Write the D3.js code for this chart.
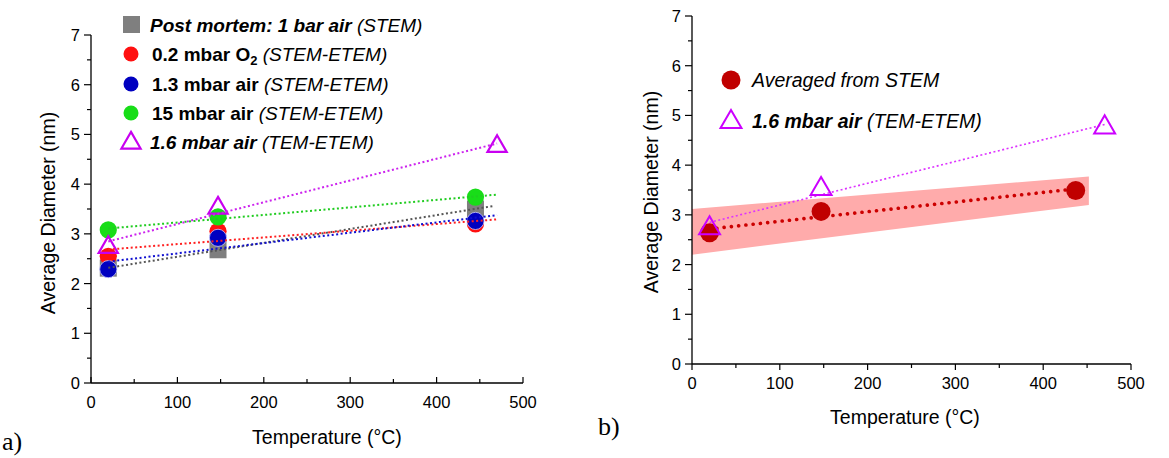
<!DOCTYPE html>
<html lang="en">
  <head>
    <meta charset="UTF-8" />
    <title>particle size vs temperature</title>
    <script src="https://cdn.jsdelivr.net/npm/d3@7"></script>
    <style>
      body { margin: 0; background: #fff; }
      svg { display: block; font-family: "Liberation Sans", Arial, sans-serif; }
    </style>
  </head>
  <body>
    <div id="wrapper"></div>
    <script>
      // temperatures (°C) of the STEM series in panel a
      const tempsStem = [20, 147, 445];
      const postMortem = [2.31, 2.68, 3.5];
      const o2Series = [2.55, 3.05, 3.2];
      const air13 = [2.29, 2.92, 3.26];
      const air15 = [3.08, 3.34, 3.74];
      // TEM-ETEM series (both panels)
      const tempsTem = [20, 147, 470];
      const air16 = [2.75, 3.54, 4.78];
      // panel b: averaged STEM values and spread band
      const tempsAvg = [20, 147, 437];
      const averaged = [2.64, 3.07, 3.49];
      const bandTemps = [0, 452];
      const bandLow = [2.2, 3.2];
      const bandHigh = [3.12, 3.77];

      const xTicks = [0, 100, 200, 300, 400, 500];
      const yTicks = [0, 1, 2, 3, 4, 5, 6, 7];

      const width = 1169, height = 458;
      const svg = d3.select("#wrapper").append("svg")
        .attr("width", width).attr("height", height);

      // least squares fit, returns y at given x
      function fit(xs, ys) {
        const mx = d3.mean(xs), my = d3.mean(ys);
        let sxy = 0, sxx = 0;
        xs.forEach((x, i) => { sxy += (x - mx) * (ys[i] - my); sxx += (x - mx) ** 2; });
        const b = sxy / sxx;
        return x => my + b * (x - mx);
      }

      function drawAxes(g, x, y, opts) {
        const inward = opts.xInward;
        // y axis
        g.append("line").attr("x1", x(0)).attr("x2", x(0)).attr("y1", y(0)).attr("y2", y(7))
          .attr("stroke", "#000").attr("stroke-width", 1.3);
        d3.range(0, 7.01, 0.5).forEach(v => {
          const major = v % 1 === 0;
          g.append("line").attr("x1", x(0) - (major ? 7 : 4)).attr("x2", x(0))
            .attr("y1", y(v)).attr("y2", y(v)).attr("stroke", "#000").attr("stroke-width", 1.2);
        });
        g.selectAll(".ylab").data(yTicks).join("text")
          .attr("x", x(0) - 11).attr("y", d => y(d) + 6)
          .attr("text-anchor", "end").attr("font-size", 16.5).text(d => d);
        // x axis
        g.append("line").attr("x1", x(0)).attr("x2", x(500)).attr("y1", y(0)).attr("y2", y(0))
          .attr("stroke", "#000").attr("stroke-width", 1.3);
        d3.range(0, 501, 50).forEach(v => {
          const len = v % 100 === 0 ? 6 : 4;
          g.append("line").attr("x1", x(v)).attr("x2", x(v))
            .attr("y1", y(0)).attr("y2", inward ? y(0) - len : y(0) + len)
            .attr("stroke", "#000").attr("stroke-width", 1.2);
        });
        g.selectAll(".xlab").data(xTicks).join("text")
          .attr("x", d => x(d)).attr("y", y(0) + opts.xLabOff)
          .attr("text-anchor", "middle").attr("font-size", 16.5).text(d => d);
        g.append("text").attr("x", opts.xTitle[0]).attr("y", opts.xTitle[1])
          .attr("text-anchor", "middle").attr("font-size", 19.5).text("Temperature (°C)");
        g.append("text")
          .attr("transform", `translate(${opts.yTitle[0]},${opts.yTitle[1]}) rotate(-90)`)
          .attr("text-anchor", "middle").attr("font-size", 19.5).text("Average Diameter (nm)");
      }

      const tri = d3.symbol().type(d3.symbolTriangle);

      function trend(g, x, y, xs, ys, x0, x1, color, w, dash) {
        const f = fit(xs, ys);
        g.append("line")
          .attr("x1", x(x0)).attr("y1", y(f(x0))).attr("x2", x(x1)).attr("y2", y(f(x1)))
          .attr("stroke", color).attr("stroke-width", w).attr("stroke-dasharray", dash)
          .attr("stroke-linecap", w > 2.5 ? "round" : "butt");
      }

      // ---------- panel a ----------
      const xa = d3.scaleLinear().domain([0, 500]).range([91, 523]);
      const ya = d3.scaleLinear().domain([0, 7]).range([383, 35]);
      const ga = svg.append("g");
      drawAxes(ga, xa, ya, { xInward: true, xLabOff: 25, xTitle: [327, 444], yTitle: [55, 213] });

      const pa = ga.append("g");
      pa.selectAll(".sq").data(postMortem).join("rect")
        .attr("x", (d, i) => xa(tempsStem[i]) - 8.5).attr("y", d => ya(d) - 8.5)
        .attr("width", 17).attr("height", 17).attr("fill", "#7f7f7f");
      const circles = [[o2Series, "#ff1010", "none"], [air13, "#0000c0", "#c8c8ff"], [air15, "#18dd18", "none"]];
      circles.forEach(([vals, col, st]) => {
        pa.selectAll(null).data(vals).join("circle")
          .attr("cx", (d, i) => xa(tempsStem[i])).attr("cy", d => ya(d)).attr("r", 8.6)
          .attr("fill", col).attr("stroke", st).attr("stroke-width", 0.8);
      });
      pa.selectAll(".tri").data(air16).join("path")
        .attr("d", tri.size(160))
        .attr("transform", (d, i) => `translate(${xa(tempsTem[i])},${ya(d) + 1})`)
        .attr("fill", "none").attr("stroke", "#c800f0").attr("stroke-width", 2.2);

      trend(pa, xa, ya, tempsStem, postMortem, 20, 465, "#555", 2, "2 2.5");
      trend(pa, xa, ya, tempsStem, o2Series, 20, 470, "#ff2020", 2, "2 2.5");
      trend(pa, xa, ya, tempsStem, air13, 20, 470, "#1010d0", 2, "2 2.5");
      trend(pa, xa, ya, tempsStem, air15, 20, 470, "#20cc20", 2, "2 2.5");
      trend(pa, xa, ya, tempsTem, air16, 20, 470, "#cc22ee", 2, "2 2.5");

      // legend a
      const la = ga.append("g").attr("font-size", 19);
      const rowY = [25, 54, 84, 113, 142];
      la.append("rect").attr("x", 123).attr("y", rowY[0] - 9).attr("width", 17).attr("height", 17).attr("fill", "#7f7f7f");
      [["#ff1010", 1], ["#0000c0", 2], ["#18dd18", 3]].forEach(([c, i]) => {
        la.append("circle").attr("cx", 131).attr("cy", rowY[i]).attr("r", 7.5).attr("fill", c);
      });
      la.append("path").attr("d", tri.size(160)).attr("transform", `translate(131,${rowY[4] + 1})`)
        .attr("fill", "none").attr("stroke", "#c800f0").attr("stroke-width", 2.2);

      function legendRow(g, x, y, parts) {
        const t = g.append("text").attr("x", x).attr("y", y + 6.5);
        parts.forEach(p => {
          const s = t.append("tspan").text(p.t);
          if (p.b) s.attr("font-weight", "bold");
          if (p.i) s.attr("font-style", "italic");
          if (p.sub) s.attr("dy", 4).attr("font-size", 13);
          if (p.up) s.attr("dy", -4);
        });
      }
      legendRow(la, 150, rowY[0], [{ t: "Post mortem: 1 bar air", b: 1, i: 1 }, { t: " (STEM)", i: 1 }]);
      legendRow(la, 152, rowY[1], [{ t: "0.2 mbar O", b: 1 }, { t: "2", b: 1, sub: 1 }, { t: " (STEM-ETEM)", i: 1, up: 1 }]);
      legendRow(la, 152, rowY[2], [{ t: "1.3 mbar air", b: 1 }, { t: " (STEM-ETEM)", i: 1 }]);
      legendRow(la, 152, rowY[3], [{ t: "15 mbar air", b: 1 }, { t: " (STEM-ETEM)", i: 1 }]);
      legendRow(la, 150, rowY[4], [{ t: "1.6 mbar air", b: 1, i: 1 }, { t: " (TEM-ETEM)", i: 1 }]);

      // ---------- panel b ----------
      const xb = d3.scaleLinear().domain([0, 500]).range([692, 1131]);
      const yb = d3.scaleLinear().domain([0, 7]).range([364, 16]);
      const gb = svg.append("g");
      const pb = gb.append("g");
      pb.append("path")
        .datum(bandTemps.map((t, i) => [t, bandHigh[i]]).concat(bandTemps.map((t, i) => [t, bandLow[i]]).reverse()))
        .attr("d", d => "M" + d.map(p => [xb(p[0]), yb(p[1])].join(",")).join("L") + "Z")
        .attr("fill", "#ffabab");
      drawAxes(gb, xb, yb, { xInward: false, xLabOff: 25, xTitle: [905, 424], yTitle: [658, 192] });

      trend(pb, xb, yb, tempsAvg, averaged, 20, 437, "#cc0000", 3.6, "0.1 7.2");
      pb.selectAll(".avg").data(averaged).join("circle")
        .attr("cx", (d, i) => xb(tempsAvg[i])).attr("cy", d => yb(d)).attr("r", 9.5).attr("fill", "#c00000");
      trend(pb, xb, yb, tempsTem, air16, 20, 470, "#dd33ff", 1.6, "2 2.5");
      pb.selectAll(".tri").data(air16).join("path")
        .attr("d", tri.size(190))
        .attr("transform", (d, i) => `translate(${xb(tempsTem[i])},${yb(d) + 1})`)
        .attr("fill", "none").attr("stroke", "#cc00ff").attr("stroke-width", 2);

      // legend b
      const lb = gb.append("g").attr("font-size", 19.5);
      lb.append("circle").attr("cx", 731).attr("cy", 80).attr("r", 9.5).attr("fill", "#c00000");
      lb.append("path").attr("d", tri.size(190)).attr("transform", "translate(731,122)")
        .attr("fill", "none").attr("stroke", "#cc00ff").attr("stroke-width", 2);
      legendRow(lb, 752, 80, [{ t: "Averaged from STEM", i: 1 }]);
      legendRow(lb, 752, 121, [{ t: "1.6 mbar air", b: 1, i: 1 }, { t: " (TEM-ETEM)", i: 1 }]);

      // panel letters
      svg.append("text").attr("x", 2).attr("y", 450).attr("font-family", "Liberation Serif, serif")
        .attr("font-size", 26).text("a)");
      svg.append("text").attr("x", 598).attr("y", 435).attr("font-family", "Liberation Serif, serif")
        .attr("font-size", 26).text("b)");
    </script>
  </body>
</html>
